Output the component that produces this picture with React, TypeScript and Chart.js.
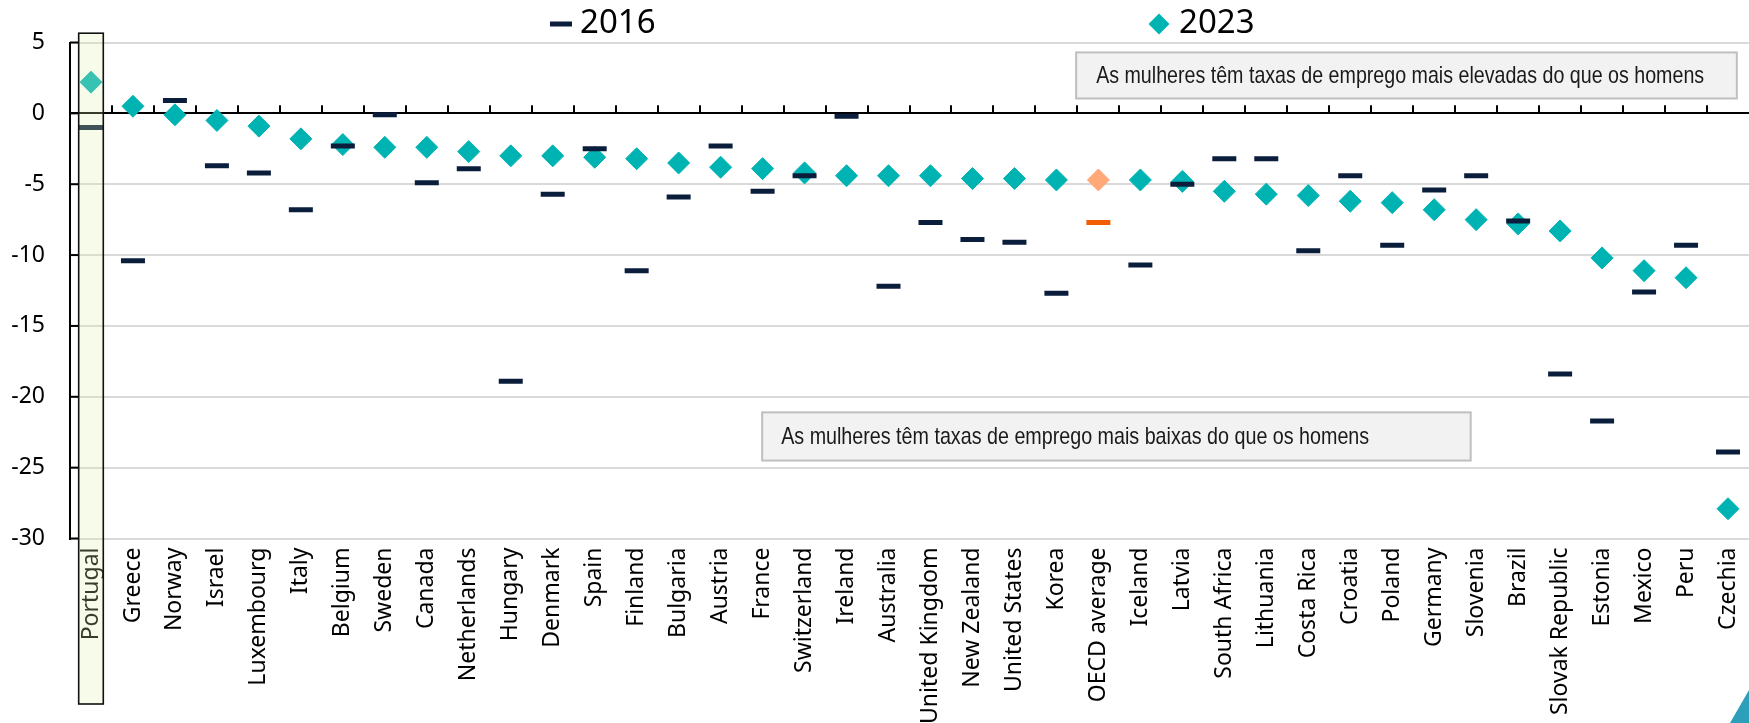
import React, { useEffect, useRef } from 'react';
import { Chart, registerables } from 'chart.js';

Chart.register(...registerables);

const countries = [
  'Portugal', 'Greece', 'Norway', 'Israel', 'Luxembourg', 'Italy', 'Belgium', 'Sweden', 'Canada', 'Netherlands',
  'Hungary', 'Denmark', 'Spain', 'Finland', 'Bulgaria', 'Austria', 'France', 'Switzerland', 'Ireland', 'Australia',
  'United Kingdom', 'New Zealand', 'United States', 'Korea', 'OECD average', 'Iceland', 'Latvia', 'South Africa',
  'Lithuania', 'Costa Rica', 'Croatia', 'Poland', 'Germany', 'Slovenia', 'Brazil', 'Slovak Republic', 'Estonia',
  'Mexico', 'Peru', 'Czechia',
];

const values2023 = [
  2.2, 0.5, -0.1, -0.5, -0.9, -1.8, -2.2, -2.4, -2.4, -2.7,
  -3.0, -3.0, -3.1, -3.2, -3.5, -3.8, -3.9, -4.2, -4.4, -4.4,
  -4.4, -4.6, -4.6, -4.7, -4.7, -4.7, -4.8, -5.5, -5.7, -5.8,
  -6.2, -6.3, -6.8, -7.5, -7.8, -8.3, -10.2, -11.1, -11.6, -27.9,
];

const values2016 = [
  -1.0, -10.4, 0.9, -3.7, -4.2, -6.8, -2.3, -0.1, -4.9, -3.9,
  -18.9, -5.7, -2.5, -11.1, -5.9, -2.3, -5.5, -4.4, -0.2, -12.2,
  -7.7, -8.9, -9.1, -12.7, -7.7, -10.7, -5.0, -3.2, -3.2, -9.7,
  -4.4, -9.3, -5.4, -4.4, -7.6, -18.4, -21.7, -12.6, -9.3, -23.9,
];

const yTicks = [5, 0, -5, -10, -15, -20, -25, -30];
const seriesNames = ['2016', '2023'];
const highlightCountry = 'Portugal';
const averageCountry = 'OECD average';
const noteHigher = 'As mulheres têm taxas de emprego mais elevadas do que os homens';
const noteLower = 'As mulheres têm taxas de emprego mais baixas do que os homens';

// styling
const TEAL = '#00B3B3';
const NAVY = '#0A1E3C';
const AVG_DIAMOND = '#FFA878';
const AVG_DASH = '#F25C05';
const FONT = '"Noto Sans", "Open Sans", sans-serif';
const NOTE_FONT = '24px "Liberation Sans Narrow", "Liberation Sans", Arial, sans-serif';

// annotation boxes anchored in data units (category index, value)
const notes = [
  { text: noteHigher, x0: 23.47, x1: 39.21, yTop: 4.3, yBot: 1.05, inset: 20, maxW: 608 },
  { text: noteLower, x0: 15.99, x1: 32.87, yTop: -21.1, yBot: -24.5, inset: 19, maxW: 588 },
];

const decorPlugin = {
  id: 'decor',
  beforeDatasetsDraw(chart: any) {
    const { ctx, chartArea, scales } = chart;
    const xs = scales.x;
    const ys = scales.y;
    const y0 = ys.getPixelForValue(0);
    ctx.save();
    ctx.strokeStyle = '#000';
    ctx.lineWidth = 2;
    // upward tick marks on the zero line at category boundaries
    for (let i = 1; i < countries.length; i++) {
      const bx = Math.round((xs.getPixelForValue(i - 1) + xs.getPixelForValue(i)) / 2);
      ctx.beginPath();
      ctx.moveTo(bx, y0 - 8);
      ctx.lineTo(bx, y0);
      ctx.stroke();
    }
    // inner tick marks on the y axis
    for (const v of yTicks) {
      const py = ys.getPixelForValue(v);
      ctx.beginPath();
      ctx.moveTo(chartArea.left, py);
      ctx.lineTo(chartArea.left + 8, py);
      ctx.stroke();
    }
    // note boxes
    for (const n of notes) {
      const l = xs.getPixelForValue(n.x0);
      const r = xs.getPixelForValue(n.x1);
      const t = ys.getPixelForValue(n.yTop);
      const b = ys.getPixelForValue(n.yBot);
      ctx.fillStyle = '#F2F2F2';
      ctx.fillRect(l, t, r - l, b - t);
      ctx.strokeStyle = '#BFBFBF';
      ctx.lineWidth = 2;
      ctx.strokeRect(l, t, r - l, b - t);
      ctx.fillStyle = '#1A1A1A';
      ctx.font = NOTE_FONT;
      ctx.textAlign = 'left';
      ctx.textBaseline = 'middle';
      ctx.fillText(n.text, l + n.inset, (t + b) / 2 + 1, n.maxW);
    }
    ctx.restore();
  },
  afterDraw(chart: any) {
    const { ctx, chartArea, scales, width, height } = chart;
    const xs = scales.x;
    ctx.save();
    // highlight box over Portugal (translucent, drawn on top)
    const hi = countries.indexOf(highlightCountry);
    const cx = xs.getPixelForValue(hi);
    const left = cx - 12.3;
    const right = cx + 12.3;
    const top = chartArea.top - 9.3;
    const bottom = height - 19;
    ctx.fillStyle = 'rgba(225, 240, 170, 0.25)';
    ctx.fillRect(left, top, right - left, bottom - top);
    ctx.strokeStyle = '#111';
    ctx.lineWidth = 1.6;
    ctx.strokeRect(left, top, right - left, bottom - top);

    // legend
    ctx.fillStyle = NAVY;
    ctx.fillRect(550, 21.5, 22, 5);
    ctx.fillStyle = '#000';
    ctx.font = `33px ${FONT}`;
    ctx.textAlign = 'left';
    ctx.textBaseline = 'middle';
    ctx.fillText(seriesNames[0], 580, 24);
    ctx.fillStyle = TEAL;
    ctx.beginPath();
    ctx.moveTo(1159, 13.5);
    ctx.lineTo(1169.5, 24);
    ctx.lineTo(1159, 34.5);
    ctx.lineTo(1148.5, 24);
    ctx.closePath();
    ctx.fill();
    ctx.fillStyle = '#000';
    ctx.fillText(seriesNames[1], 1179, 24);

    // corner decoration
    ctx.fillStyle = '#2E9FBA';
    ctx.beginPath();
    ctx.moveTo(width - 19, height);
    ctx.lineTo(width, height - 33);
    ctx.lineTo(width, height);
    ctx.closePath();
    ctx.fill();
    ctx.restore();
  },
};

export default function App() {
  const canvasRef = useRef<HTMLCanvasElement | null>(null);

  useEffect(() => {
    if (!canvasRef.current) return;
    const avgIdx = countries.indexOf(averageCountry);
    const dashColors = countries.map((_, i) => (i === avgIdx ? AVG_DASH : NAVY));
    const diamondColors = countries.map((_, i) => (i === avgIdx ? AVG_DIAMOND : TEAL));

    const chart = new Chart(canvasRef.current, {
      type: 'line',
      data: {
        labels: countries,
        datasets: [
          {
            label: seriesNames[0],
            data: values2016,
            showLine: false,
            pointStyle: 'line',
            pointRadius: 12,
            pointHoverRadius: 12,
            pointBorderWidth: 5,
            pointHoverBorderWidth: 5,
            pointBorderColor: dashColors,
            pointBackgroundColor: dashColors,
          },
          {
            label: seriesNames[1],
            data: values2023,
            showLine: false,
            pointStyle: 'rectRot',
            pointRadius: 11,
            pointHoverRadius: 11,
            pointBorderWidth: 1,
            pointBorderColor: diamondColors,
            pointBackgroundColor: diamondColors,
          },
        ],
      },
      options: {
        responsive: false,
        animation: false,
        events: [],
        layout: { autoPadding: false, padding: { top: 42.5, left: 0, right: 0, bottom: 0 } },
        plugins: {
          legend: { display: false },
          tooltip: { enabled: false },
          title: { display: false },
        },
        scales: {
          x: {
            type: 'category',
            offset: true,
            grid: { display: false, drawTicks: false },
            border: { display: false },
            ticks: {
              autoSkip: false,
              minRotation: 90,
              maxRotation: 90,
              padding: 9,
              color: '#000',
              font: { family: FONT, size: 23 },
            },
            afterFit: (s: any) => {
              s.height = 184.5;
              s.paddingLeft = 0;
              s.paddingRight = 0;
            },
          },
          y: {
            min: -30,
            max: 5,
            afterBuildTicks: (s: any) => {
              s.ticks = yTicks.map((v) => ({ value: v }));
            },
            grid: {
              drawTicks: false,
              lineWidth: 2,
              color: (c: any) => (c.tick && c.tick.value === 0 ? '#000' : '#D9D9D9'),
            },
            border: { display: true, color: '#000', width: 2 },
            ticks: {
              padding: 25,
              color: '#000',
              font: { family: FONT, size: 23 },
            },
            afterFit: (s: any) => {
              s.width = 70;
              s.paddingTop = 0;
              s.paddingBottom = 0;
            },
          },
        },
      },
      plugins: [decorPlugin],
    });

    return () => chart.destroy();
  }, []);

  return (
    <div style={{ position: 'fixed', left: 0, top: 0, width: 1749, height: 723, background: '#fff' }}>
      <canvas ref={canvasRef} width={1749} height={723} style={{ display: 'block' }} />
    </div>
  );
}
